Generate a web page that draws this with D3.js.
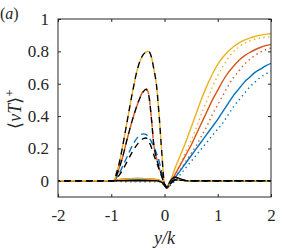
<!DOCTYPE html>
<meta charset="utf-8">
<script src="https://d3js.org/d3.v7.min.js"></script>
<style>
  body { margin: 0; background: #fff; }
</style>
<div id="my_dataviz"></div>
<script>

// tick values
var xTicks = [-2, -1, 0, 1, 2]
var yTicks = [0, 0.2, 0.4, 0.6, 0.8, 1]

// dashed curves (peak on the left of the wall)
var xPeak = [-2, -1, -0.95, -0.9, -0.85, -0.8, -0.7, -0.6, -0.5, -0.4, -0.35, -0.3, -0.25, -0.2, -0.15, -0.1, -0.05, 0, 0.05, 0.1, 0.2, 0.5, 1, 2]
var yellowDash = [0, 0, 0.002, 0.05, 0.11, 0.19, 0.37, 0.55, 0.70, 0.78, 0.795, 0.80, 0.77, 0.69, 0.59, 0.40, 0.17, -0.02, -0.04, -0.02, 0.005, 0, 0, 0]
var blackTop   = [0, 0, 0.002, 0.05, 0.11, 0.19, 0.37, 0.55, 0.70, 0.78, 0.795, 0.80, 0.77, 0.69, 0.59, 0.40, 0.17, -0.02, -0.04, -0.02, 0.005, 0, 0, 0]
var orangeDash = [0, 0, 0.002, 0.03, 0.08, 0.13, 0.26, 0.38, 0.48, 0.555, 0.57, 0.54, 0.40, 0.22, 0.14, 0.08, 0.03, -0.02, -0.04, -0.02, 0.005, 0, 0, 0]
var blackMid   = [0, 0, 0.002, 0.03, 0.08, 0.13, 0.26, 0.38, 0.48, 0.55, 0.565, 0.535, 0.40, 0.22, 0.14, 0.08, 0.03, -0.02, -0.04, -0.02, 0.005, 0, 0, 0]
var blueDash   = [0, 0, 0.001, 0.02, 0.045, 0.08, 0.15, 0.22, 0.27, 0.29, 0.287, 0.27, 0.245, 0.21, 0.17, 0.12, 0.05, -0.02, -0.04, -0.02, 0.005, 0, 0, 0]
var blackLow   = [0, 0, 0.001, 0.015, 0.035, 0.06, 0.12, 0.18, 0.23, 0.26, 0.265, 0.245, 0.21, 0.16, 0.115, 0.07, 0.025, -0.02, -0.04, -0.02, 0.005, 0, 0, 0]

// solid and dotted curves (rise on the right of the wall)
var xRise = [-2, -1, -0.8, -0.5, -0.2, -0.1, 0, 0.05, 0.1, 0.2, 0.3, 0.4, 0.5, 0.6, 0.7, 0.8, 0.9, 1.0, 1.1, 1.2, 1.3, 1.4, 1.5, 1.6, 1.7, 1.8, 1.9, 2.0]
var yellowSolid = [0, 0, 0.01, 0.015, 0.01, 0.004, -0.025, -0.045, -0.01, 0.08, 0.16, 0.24, 0.33, 0.42, 0.51, 0.59, 0.66, 0.72, 0.765, 0.80, 0.83, 0.853, 0.87, 0.882, 0.892, 0.90, 0.905, 0.91]
var yellowDot   = [0, 0, -0.004, -0.005, -0.004, -0.004, -0.03, -0.045, -0.02, 0.04, 0.11, 0.18, 0.25, 0.33, 0.42, 0.50, 0.58, 0.65, 0.71, 0.76, 0.80, 0.828, 0.85, 0.865, 0.875, 0.883, 0.888, 0.89]
var orangeSolid = [0, 0, 0.01, 0.015, 0.01, 0.004, -0.025, -0.045, -0.02, 0.04, 0.10, 0.16, 0.22, 0.29, 0.36, 0.43, 0.50, 0.56, 0.62, 0.67, 0.71, 0.745, 0.772, 0.793, 0.81, 0.824, 0.835, 0.843]
var orangeDot   = [0, 0, -0.004, -0.005, -0.004, -0.004, -0.03, -0.045, -0.025, 0.02, 0.07, 0.12, 0.17, 0.22, 0.28, 0.34, 0.41, 0.47, 0.53, 0.59, 0.64, 0.68, 0.72, 0.75, 0.775, 0.795, 0.81, 0.82]
var blueSolid   = [0, 0, 0.005, 0.008, 0.005, 0.002, -0.025, -0.045, -0.025, 0.02, 0.065, 0.11, 0.155, 0.20, 0.245, 0.29, 0.335, 0.38, 0.43, 0.48, 0.53, 0.57, 0.61, 0.64, 0.67, 0.69, 0.71, 0.726]
var blueDot     = [0, 0, -0.004, -0.005, -0.004, -0.004, -0.03, -0.045, -0.03, 0.0, 0.04, 0.08, 0.12, 0.16, 0.20, 0.24, 0.28, 0.32, 0.36, 0.41, 0.46, 0.50, 0.54, 0.58, 0.61, 0.64, 0.66, 0.68]

// black solid near the wall
var xWall = [-2, -0.3, -0.15, -0.05, 0, 0.04, 0.1, 0.2, 0.3, 0.45, 2]
var blackSolid = [0, 0, 0.0, -0.01, -0.03, -0.045, -0.005, 0.022, 0.012, 0, 0]

var colors = {blue: '#0072BD', orange: '#D95319', yellow: '#EDB120', black: '#000000'}
var serif = "Liberation Serif"
var axColor = "#262626"

var margin = {top: 19, right: 29, bottom: 54, left: 58},
  width = 300 - margin.left - margin.right,
  height = 251 - margin.top - margin.bottom;

var svg = d3.select("#my_dataviz")
  .append("svg")
  .attr("width", 300)
  .attr("height", 251)

var x = d3.scaleLinear().domain([-2, 2]).range([margin.left, margin.left + width])
var y = d3.scaleLinear().domain([-0.1, 1]).range([margin.top + height, margin.top])

svg.append("clipPath").attr("id", "clip")
  .append("rect")
  .attr("x", margin.left).attr("y", margin.top)
  .attr("width", width).attr("height", height)

function pairs(xs, ys) { return xs.map(function(v, i) { return [v, ys[i]] }) }

var line = d3.line()
  .x(function(d) { return x(d[0]) })
  .y(function(d) { return y(d[1]) })
  .curve(d3.curveMonotoneX)

var plot = svg.append("g").attr("clip-path", "url(#clip)")

function draw(xs, ys, color, dash, offset) {
  plot.append("path")
    .datum(pairs(xs, ys))
    .attr("fill", "none")
    .attr("stroke", color)
    .attr("stroke-width", 1.4)
    .attr("stroke-dasharray", dash)
    .attr("stroke-dashoffset", offset || 0)
    .attr("d", line)
}

// dotted
draw(xRise, blueDot, colors.blue, "1.4,3.4")
draw(xRise, orangeDot, colors.orange, "1.4,3.4")
draw(xRise, yellowDot, colors.yellow, "1.4,3.4")
// solid
draw(xRise, blueSolid, colors.blue, null)
draw(xRise, orangeSolid, colors.orange, null)
draw(xRise, yellowSolid, colors.yellow, null)
draw(xWall, blackSolid, colors.black, null)
// dashed, colour underneath, black on top
draw(xPeak, blueDash, colors.blue, "7,4")
draw(xPeak, orangeDash, colors.orange, "7,4")
draw(xPeak, yellowDash, colors.yellow, "7,4")
draw(xPeak, blackLow, colors.black, "6,5", 4)
draw(xPeak, blackMid, colors.black, "6,5", 5)
draw(xPeak, blackTop, colors.black, "6,5", 5)

// axes with inward ticks
var xb = svg.append("g").attr("transform", "translate(0," + (margin.top + height) + ")")
  .call(d3.axisBottom(x).tickValues(xTicks).tickSize(-3).tickPadding(12)
    .tickFormat(function(d) { return d < 0 ? "-" + Math.abs(d) : String(d) }))
svg.append("g").attr("transform", "translate(0," + margin.top + ")")
  .call(d3.axisTop(x).tickValues(xTicks).tickSize(-3).tickFormat(""))
var yl = svg.append("g").attr("transform", "translate(" + margin.left + ",0)")
  .call(d3.axisLeft(y).tickValues(yTicks).tickSize(-3).tickPadding(9)
    .tickFormat(function(d) { return d === 0 || d === 1 ? String(d) : d.toFixed(1) }))
svg.append("g").attr("transform", "translate(" + (margin.left + width) + ",0)")
  .call(d3.axisRight(y).tickValues(yTicks).tickSize(-3).tickFormat(""))

svg.selectAll(".domain").remove()
svg.selectAll(".tick line").attr("stroke", axColor)
svg.selectAll(".tick text")
  .attr("fill", axColor)
  .attr("font-family", serif)
  .attr("font-size", 17)

svg.append("rect")
  .attr("x", margin.left).attr("y", margin.top)
  .attr("width", width).attr("height", height)
  .attr("fill", "none").attr("stroke", axColor).attr("stroke-width", 1)

// x label
svg.append("text")
  .attr("x", margin.left + width / 2)
  .attr("y", 244)
  .attr("text-anchor", "middle")
  .attr("font-family", serif)
  .attr("font-size", 18)
  .attr("font-style", "italic")
  .attr("fill", axColor)
  .text("y/k")

// y label
var yLab = svg.append("text")
  .attr("transform", "translate(21," + (margin.top + 90) + ") rotate(-90)")
  .attr("text-anchor", "middle")
  .attr("font-family", serif)
  .attr("font-size", 18)
  .attr("fill", axColor)
yLab.append("tspan").text("\u27E8")
yLab.append("tspan").attr("font-style", "italic").text("vT")
yLab.append("tspan").text("\u27E9")
yLab.append("tspan").attr("dy", "-7").attr("font-size", 13).text("+")

// panel label
var pLab = svg.append("text")
  .attr("x", 0)
  .attr("y", 19)
  .attr("font-family", serif)
  .attr("font-size", 16)
  .attr("fill", axColor)
pLab.append("tspan").text("(")
pLab.append("tspan").attr("font-style", "italic").text("a")
pLab.append("tspan").text(")")

</script>
